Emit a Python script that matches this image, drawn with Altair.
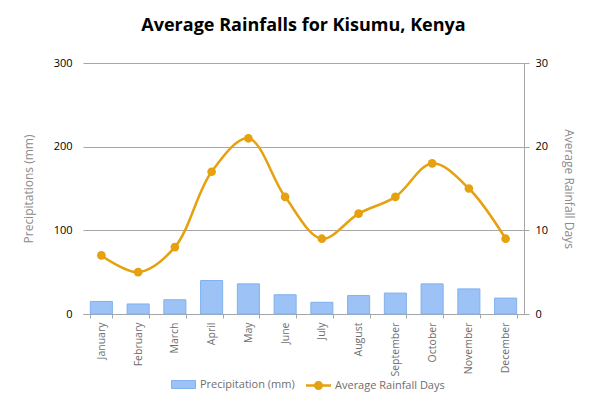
import altair as alt
import pandas as pd

months = ["January", "February", "March", "April", "May", "June", "July",
          "August", "September", "October", "November", "December"]
precip = [15, 12, 17, 40, 36, 23, 14, 22, 25, 36, 30, 19]
days = [7, 5, 8, 17, 21, 14, 9, 12, 14, 18, 15, 9]

df = pd.DataFrame({"Month": months, "Precipitation": precip, "Days": days})

FONT = "Open Sans"
BLUE = "#9DC3F6"
BLUE_STROKE = "#7FB0EE"
GOLD = "#E6A10F"
GRID = "#A6A6A6"
TITLE_GRAY = "#8C8C8C"
LABEL_GRAY = "#6E6E6E"

x = alt.X("Month:N", sort=months, title=None,
          scale=alt.Scale(paddingInner=0.4, paddingOuter=0.2),
          axis=alt.Axis(labelAngle=-90, labelColor=LABEL_GRAY, labelFontSize=10.5,
                        labelFont=FONT, tickBand="extent", tickSize=4,
                        tickColor=GRID, domainColor=GRID, labelPadding=4))

bars = alt.Chart(df).transform_calculate(
    series="'Precipitation (mm)'"
).mark_bar(stroke=BLUE_STROKE, strokeWidth=1).encode(
    x=x,
    y=alt.Y("Precipitation:Q", title="Precipitations (mm)",
            scale=alt.Scale(domain=[0, 300]),
            axis=alt.Axis(values=[0, 100, 200, 300], orient="left", domain=False,
                          ticks=False, labelPadding=11, grid=True, gridColor=GRID,
                          labelColor="#000000", labelFont=FONT, labelFontSize=11,
                          titleColor=TITLE_GRAY, titleFont=FONT, titleFontSize=12,
                          titleFontWeight="normal", titlePadding=18)),
    color=alt.Color("series:N",
                    scale=alt.Scale(domain=["Precipitation (mm)"], range=[BLUE]),
                    legend=alt.Legend(title=None, orient="none", legendX=88, legendY=309,
                                      symbolType="M-1,-0.33H1V0.33H-1Z",
                                      symbolSize=576, symbolStrokeColor=BLUE_STROKE,
                                      symbolStrokeWidth=1, labelOffset=4,
                                      labelFont=FONT, labelFontSize=11,
                                      labelColor=LABEL_GRAY)),
)

y2 = alt.Y("Days:Q", title="Average Rainfall Days",
           scale=alt.Scale(domain=[0, 30]),
           axis=alt.Axis(values=[0, 10, 20, 30], orient="right", domain=True,
                         domainColor=GRID, tickColor=GRID, tickSize=5, labelPadding=6,
                         grid=False, labelColor="#000000", labelFont=FONT,
                         labelFontSize=11, titleColor=TITLE_GRAY, titleFont=FONT,
                         titleFontSize=12, titleFontWeight="normal", titlePadding=14))

line = alt.Chart(df).mark_line(interpolate="catmull-rom", color=GOLD, strokeWidth=2.5).encode(
    x=x, y=y2)

LINE_SYMBOL = ("M-1,-0.1H-0.3V0.1H-1Z M0.3,-0.1H1V0.1H0.3Z "
               "M-0.36,0A0.36,0.36 0 1,1 0.36,0A0.36,0.36 0 1,1 -0.36,0Z")

points = alt.Chart(df).transform_calculate(
    series="'Average Rainfall Days'"
).mark_point(filled=True, size=75, opacity=1).encode(
    x=x, y=y2,
    color=alt.Color("series:N",
                    scale=alt.Scale(domain=["Average Rainfall Days"], range=[GOLD]),
                    legend=alt.Legend(title=None, orient="none", legendX=222, legendY=309,
                                      symbolType=LINE_SYMBOL,
                                      symbolSize=625, symbolOpacity=1, labelOffset=3,
                                      labelFont=FONT, labelFontSize=11,
                                      labelColor=LABEL_GRAY)),
)

chart = alt.layer(bars, line + points).resolve_scale(
    y="independent", color="independent"
).properties(
    width=441, height=251,
    title=alt.TitleParams("Average Rainfalls for Kisumu, Kenya", font=FONT,
                          fontSize=18, fontWeight="bold", color="#000000",
                          anchor="middle", frame="group", offset=22),
    autosize=alt.AutoSizeParams(type="none"),
    padding={"left": 75, "top": 55, "right": 68, "bottom": 85},
).configure_view(stroke=None)

chart.save("out.html", embed_options={"renderer": "svg", "actions": False})
